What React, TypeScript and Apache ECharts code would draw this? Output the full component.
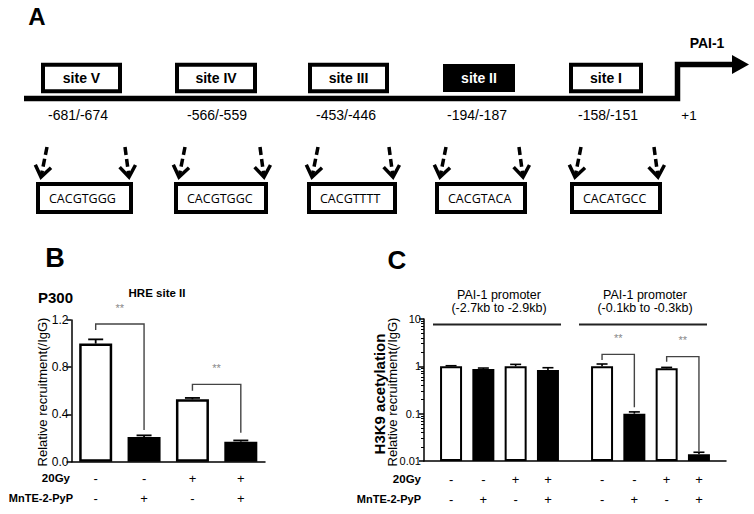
import React, { useEffect, useRef } from 'react';
import * as echarts from 'echarts';

// ---------- Panel A data ----------
const siteNames = ['site V', 'site IV', 'site III', 'site II', 'site I'];
const sitePositions = ['-681/-674', '-566/-559', '-453/-446', '-194/-187', '-158/-151'];
const siteSequences = ['CACGTGGG', 'CACGTGGC', 'CACGTTTT', 'CACGTACA', 'CACATGCC'];
const highlightedSite = 'site II';

// ---------- Panel B data (P300, HRE site II) ----------
const bConditions = ['ctrl', 'MnTE', '20Gy', '20Gy+MnTE'];
const bGy = ['-', '-', '+', '+'];
const bMn = ['-', '+', '-', '+'];
const bValues = [1.0, 0.21, 0.528, 0.17];
const bErrors = [1.036, 0.223, 0.54, 0.18];
const bFilled = [false, true, false, true];
// brackets: [fromIndex, toIndex, leftEnd, top, rightEnd]
const bBrackets = [
  [0, 1, 1.115, 1.166, 0.268],
  [2, 3, 0.6, 0.655, 0.245],
];

// ---------- Panel C data (H3K9 acetylation) ----------
const cRegions = ['(-2.7kb to -2.9kb)', '(-0.1kb to -0.3kb)'];
const cGy = ['-', '-', '+', '+'];
const cMn = ['-', '+', '-', '+'];
const cCtrl = [1.0, 1.0];
const cMnTE = [0.877, 0.1];
const cGyOnly = [1.0, 0.907];
const cGyMn = [0.835, 0.0139];
const cCtrlErr = [1.03, 1.12];
const cMnTEErr = [0.92, 0.109];
const cGyOnlyErr = [1.1, 0.95];
const cGyMnErr = [0.935, 0.0153];
const cFilled = [false, true, false, true];
// brackets: [region, fromSeries, toSeries, leftEnd, top, rightEnd]
const cBrackets = [
  [1, 0, 1, 1.36, 1.79, 0.136],
  [1, 2, 3, 1.25, 1.6, 0.0157],
];

const FONT = "'Liberation Sans', Arial, Helvetica, sans-serif";

export default function App() {
  const ref = useRef<HTMLDivElement>(null);

  useEffect(() => {
    document.body.style.margin = '0';
    const chart = echarts.init(ref.current!, null, { renderer: 'svg' });

    const txt = (x: number, y: number, text: string, o: any = {}) => ({
      type: 'text',
      x,
      y,
      rotation: o.rotation || 0,
      silent: true,
      style: {
        text,
        fill: o.fill || '#000',
        fontSize: o.fontSize || 12,
        fontWeight: o.fontWeight || 'normal',
        fontFamily: o.fontFamily || FONT,
        align: o.align || 'center',
        verticalAlign: 'middle',
        textAlign: o.align || 'center',
        textVerticalAlign: 'middle',
      },
    });

    // ---------- Panel A graphics ----------
    const g: any[] = [];
    g.push(txt(37, 16, 'A', { fontSize: 24, fontWeight: 'bold' }));
    g.push({
      type: 'polyline',
      shape: { points: [[24, 98.5], [677.5, 98.5], [677.5, 64.5], [736, 64.5]] },
      style: { stroke: '#000', lineWidth: 5.5, fill: null, lineJoin: 'miter' },
    });
    g.push({
      type: 'polygon',
      shape: { points: [[732, 55], [749, 64.5], [732, 74]] },
      style: { fill: '#000' },
    });
    g.push(txt(707, 43, 'PAI-1', { fontSize: 14, fontWeight: 'bold' }));

    const siteBoxX = [[41, 122], [175, 257], [308, 389], [443, 515], [569, 643]];
    const posLabelX = [78, 217, 346, 477, 608];
    siteNames.forEach((name, i) => {
      const [x0, x1] = siteBoxX[i];
      const hl = name === highlightedSite;
      if (hl) {
        g.push({ type: 'rect', shape: { x: x0, y: 64, width: x1 - x0, height: 28 }, style: { fill: '#000' } });
      } else {
        g.push({
          type: 'rect',
          shape: { x: x0 + 2, y: 64.7, width: x1 - x0 - 4, height: 26.6 },
          style: { fill: '#fff', stroke: '#000', lineWidth: 4 },
        });
      }
      g.push(txt((x0 + x1) / 2, 78, name, { fontSize: 14, fontWeight: 'bold', fill: hl ? '#fff' : '#000' }));
      g.push(txt(posLabelX[i], 115, sitePositions[i], { fontSize: 14 }));
    });
    g.push(txt(689, 115, '+1', { fontSize: 13.5 }));

    const seqBoxX = [[36, 133], [174, 268], [307, 397], [435, 527], [570, 662]];
    const arrow = (x0: number, y0: number, x1: number, y1: number) => {
      const dx = x1 - x0, dy = y1 - y0;
      const len = Math.sqrt(dx * dx + dy * dy);
      const ux = dx / len, uy = dy / len;
      const px = -uy, py = ux;
      g.push({
        type: 'line',
        shape: { x1: x0, y1: y0, x2: x1 - ux * 3, y2: y1 - uy * 3 },
        style: { stroke: '#000', lineWidth: 3.5, lineDash: [8, 4] },
      });
      g.push({
        type: 'polyline',
        shape: {
          points: [
            [x1 - ux * 11 + px * 8, y1 - uy * 11 + py * 8],
            [x1, y1],
            [x1 - ux * 11 - px * 8, y1 - uy * 11 - py * 8],
          ],
        },
        style: { stroke: '#000', lineWidth: 3.5, fill: null, lineJoin: 'miter' },
      });
    };
    siteSequences.forEach((seq, i) => {
      const [x0, x1] = seqBoxX[i];
      g.push({
        type: 'rect',
        shape: { x: x0 + 2, y: 184, width: x1 - x0 - 4, height: 28 },
        style: { fill: '#fff', stroke: '#000', lineWidth: 4 },
      });
      g.push(txt(x0 + 13, 198, seq, { fontSize: 12.5, align: 'left', fontFamily: "'Open Sans', 'Noto Sans', sans-serif" }));
      arrow(x0 + 11, 147, x0 + 5, 177);
      arrow(x1 - 8, 147, x1 - 4, 177);
    });

    // ---------- Panel B / C decorations ----------
    g.push(txt(55, 258, 'B', { fontSize: 27, fontWeight: 'bold' }));
    g.push(txt(397, 260, 'C', { fontSize: 26, fontWeight: 'bold' }));
    g.push(txt(38, 297, 'P300', { fontSize: 15, fontWeight: 'bold', align: 'left' }));
    g.push(txt(157, 293, 'HRE site II', { fontSize: 11.5, fontWeight: 'bold' }));
    g.push(txt(42, 392, 'Relative recruitment(/IgG)', { fontSize: 13, rotation: Math.PI / 2 }));
    g.push(txt(379, 394, 'H3K9 acetylation', { fontSize: 15, fontWeight: 'bold', rotation: Math.PI / 2 }));
    g.push(txt(392, 392, 'Relative recruitment(/IgG)', { fontSize: 13, rotation: Math.PI / 2 }));
    g.push(txt(70, 478, '20Gy', { fontSize: 11.5, fontWeight: 'bold', align: 'right' }));
    g.push(txt(73, 498, 'MnTE-2-PyP', { fontSize: 11, fontWeight: 'bold', align: 'right' }));
    g.push(txt(421, 479, '20Gy', { fontSize: 11.5, fontWeight: 'bold', align: 'right' }));
    g.push(txt(421, 499, 'MnTE-2-PyP', { fontSize: 11, fontWeight: 'bold', align: 'right' }));
    const headerX = [[433, 561], [579, 707]];
    cRegions.forEach((r, i) => {
      const [x0, x1] = headerX[i];
      const cx = (x0 + x1) / 2 + 2;
      g.push(txt(cx, 295, 'PAI-1 promoter', { fontSize: 12.5 }));
      g.push(txt(cx, 308, r, { fontSize: 12.5 }));
      g.push({ type: 'line', shape: { x1: x0, y1: 324.5, x2: x1, y2: 324.5 }, style: { stroke: '#222', lineWidth: 2 } });
    });

    // ---------- charts ----------
    const cBarWidth = 22;
    const cGapPx = 10.3;
    const cPitch = cBarWidth + cGapPx;
    const cSeriesVals = [cCtrl, cMnTE, cGyOnly, cGyMn];
    const cSeriesErr = [cCtrlErr, cMnTEErr, cGyOnlyErr, cGyMnErr];

    const axisLineStyle = { color: '#000', width: 1.5 };

    const cErrData: any[] = [];
    cRegions.forEach((_, r) => {
      cSeriesVals.forEach((vals, k) => {
        cErrData.push([r, vals[r], cSeriesErr[k][r], k]);
      });
    });
    const cSignData: any[] = [];
    cRegions.forEach((_, r) => {
      cGy.forEach((_, k) => cSignData.push([r, 0.01, k]));
    });

    const option: any = {
      animation: false,
      backgroundColor: '#fff',
      textStyle: { fontFamily: FONT },
      grid: [
        { left: 71.5, top: 320, width: 193.5, height: 141.7 },
        { left: 424, top: 319, width: 302, height: 142 },
      ],
      xAxis: [
        {
          type: 'category',
          gridIndex: 0,
          data: bConditions,
          axisLine: { lineStyle: axisLineStyle },
          axisTick: { alignWithLabel: true, length: 4, lineStyle: axisLineStyle },
          axisLabel: {
            formatter: (_v: string, i: number) => `${bGy[i]}\n${bMn[i]}`,
            lineHeight: 20,
            fontSize: 13,
            color: '#000',
            margin: 7,
            fontFamily: FONT,
          },
        },
        {
          type: 'category',
          gridIndex: 1,
          data: cRegions,
          axisLine: { lineStyle: axisLineStyle },
          axisTick: { alignWithLabel: true, length: 5, lineStyle: axisLineStyle },
          axisLabel: { show: false },
        },
      ],
      yAxis: [
        {
          type: 'value',
          gridIndex: 0,
          min: 0,
          max: 1.2,
          interval: 0.4,
          axisLine: { show: true, lineStyle: axisLineStyle },
          axisTick: { show: true, length: 5, lineStyle: axisLineStyle },
          splitLine: { show: false },
          axisLabel: { formatter: (v: number) => v.toFixed(1), fontSize: 12, color: '#000', margin: 3, fontFamily: FONT },
        },
        {
          type: 'log',
          gridIndex: 1,
          logBase: 10,
          min: 0.01,
          max: 10,
          startValue: 0.01,
          axisLine: { show: true, lineStyle: axisLineStyle },
          axisTick: { show: true, length: 5, lineStyle: axisLineStyle },
          minorTick: { show: true, splitNumber: 9, length: 3, lineStyle: { color: '#000', width: 1 } },
          splitLine: { show: false },
          axisLabel: {
            formatter: (v: number) => String(+Number(v).toPrecision(2)),
            fontSize: 11,
            color: '#000',
            margin: 3,
            fontFamily: FONT,
          },
        },
      ],
      graphic: { elements: g },
      series: [
        {
          type: 'bar',
          xAxisIndex: 0,
          yAxisIndex: 0,
          barWidth: 33,
          data: bValues.map((v, i) => ({
            value: v,
            itemStyle: { color: bFilled[i] ? '#000' : '#fff', borderColor: '#000', borderWidth: 2.5 },
          })),
        },
        {
          type: 'custom',
          xAxisIndex: 0,
          yAxisIndex: 0,
          data: bValues.map((v, i) => [i, v, bErrors[i]]),
          encode: { x: 0, y: [1, 2] },
          renderItem: (_p: any, api: any) => {
            const a = api.coord([api.value(0), api.value(1)]);
            const b = api.coord([api.value(0), api.value(2)]);
            return {
              type: 'group',
              children: [
                { type: 'line', shape: { x1: a[0], y1: a[1], x2: b[0], y2: b[1] }, style: { stroke: '#000', lineWidth: 1.8 } },
                { type: 'line', shape: { x1: b[0] - 7.5, y1: b[1], x2: b[0] + 7.5, y2: b[1] }, style: { stroke: '#000', lineWidth: 1.8 } },
              ],
            };
          },
        },
        {
          type: 'custom',
          xAxisIndex: 0,
          yAxisIndex: 0,
          clip: false,
          data: bBrackets,
          encode: { x: [0, 1], y: [2, 3, 4] },
          renderItem: (_p: any, api: any) => {
            const i0 = api.value(0), i1 = api.value(1);
            const pL = api.coord([i0, api.value(2)]);
            const pT1 = api.coord([i0, api.value(3)]);
            const pT2 = api.coord([i1, api.value(3)]);
            const pR = api.coord([i1, api.value(4)]);
            return {
              type: 'group',
              children: [
                { type: 'polyline', shape: { points: [pL, pT1, pT2, pR] }, style: { stroke: '#444', lineWidth: 1.4, fill: null } },
                {
                  type: 'text',
                  x: (pT1[0] + pT2[0]) / 2,
                  y: pT1[1] - 16,
                  style: { text: '**', fill: '#888', fontSize: 11, fontFamily: FONT, align: 'center', verticalAlign: 'middle' },
                },
              ],
            };
          },
        },
        ...cSeriesVals.map((vals, k) => ({
          type: 'bar',
          xAxisIndex: 1,
          yAxisIndex: 1,
          barWidth: cBarWidth,
          barGap: `${(cGapPx / cBarWidth) * 100}%`,
          data: vals.map((v) => ({
            value: v,
            itemStyle: { color: cFilled[k] ? '#000' : '#fff', borderColor: '#000', borderWidth: 2 },
          })),
        })),
        {
          type: 'custom',
          xAxisIndex: 1,
          yAxisIndex: 1,
          data: cErrData,
          encode: { x: 0, y: [1, 2] },
          renderItem: (_p: any, api: any) => {
            const off = (api.value(3) - 1.5) * cPitch;
            const a = api.coord([api.value(0), api.value(1)]);
            const b = api.coord([api.value(0), api.value(2)]);
            const x = a[0] + off;
            return {
              type: 'group',
              children: [
                { type: 'line', shape: { x1: x, y1: a[1], x2: x, y2: b[1] }, style: { stroke: '#000', lineWidth: 1.6 } },
                { type: 'line', shape: { x1: x - 5.5, y1: b[1], x2: x + 5.5, y2: b[1] }, style: { stroke: '#000', lineWidth: 1.6 } },
              ],
            };
          },
        },
        {
          type: 'custom',
          xAxisIndex: 1,
          yAxisIndex: 1,
          clip: false,
          data: cBrackets,
          encode: { x: 0, y: [3, 4, 5] },
          renderItem: (_p: any, api: any) => {
            const r = api.value(0);
            const o0 = (api.value(1) - 1.5) * cPitch;
            const o1 = (api.value(2) - 1.5) * cPitch;
            const pL = api.coord([r, api.value(3)]);
            const pT = api.coord([r, api.value(4)]);
            const pR = api.coord([r, api.value(5)]);
            const xl = pL[0] + o0, xr = pL[0] + o1;
            return {
              type: 'group',
              children: [
                {
                  type: 'polyline',
                  shape: { points: [[xl, pL[1]], [xl, pT[1]], [xr, pT[1]], [xr, pR[1]]] },
                  style: { stroke: '#444', lineWidth: 1.4, fill: null },
                },
                {
                  type: 'text',
                  x: (xl + xr) / 2,
                  y: pT[1] - 16.5,
                  style: { text: '**', fill: '#888', fontSize: 11, fontFamily: FONT, align: 'center', verticalAlign: 'middle' },
                },
              ],
            };
          },
        },
        {
          type: 'custom',
          xAxisIndex: 1,
          yAxisIndex: 1,
          clip: false,
          data: cSignData,
          encode: { x: 0, y: 1 },
          renderItem: (_p: any, api: any) => {
            const k = api.value(2);
            const p = api.coord([api.value(0), api.value(1)]);
            const x = p[0] + (k - 1.5) * cPitch;
            return {
              type: 'group',
              children: [
                { type: 'text', x, y: p[1] + 18, style: { text: cGy[k], fill: '#000', fontSize: 13, fontFamily: FONT, align: 'center', verticalAlign: 'middle' } },
                { type: 'text', x, y: p[1] + 38, style: { text: cMn[k], fill: '#000', fontSize: 13, fontFamily: FONT, align: 'center', verticalAlign: 'middle' } },
              ],
            };
          },
        },
      ],
    };

    chart.setOption(option);
    return () => chart.dispose();
  }, []);

  return <div ref={ref} style={{ width: 754, height: 514 }} />;
}
